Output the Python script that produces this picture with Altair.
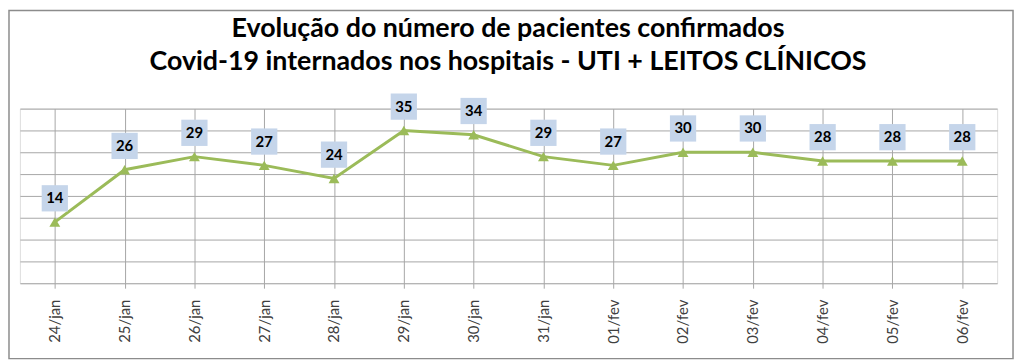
import altair as alt
import pandas as pd

datas = ["24/jan", "25/jan", "26/jan", "27/jan", "28/jan", "29/jan", "30/jan",
         "31/jan", "01/fev", "02/fev", "03/fev", "04/fev", "05/fev", "06/fev"]
pacientes = [14, 26, 29, 27, 24, 35, 34, 29, 27, 30, 30, 28, 28, 28]
titulo = ["Evolução do número de pacientes confirmados",
          "Covid-19 internados nos hospitais - UTI + LEITOS CLÍNICOS"]

df = pd.DataFrame({"data": datas, "pacientes": pacientes})
df_t = pd.DataFrame({"linha": titulo, "i": [0, 1]})

FONT = "Lato"
GREEN = "#9bbb59"
GRID = "#a6a6a6"

x = alt.X("data:N", sort=datas, title=None,
          scale=alt.Scale(paddingInner=0, paddingOuter=0),
          axis=alt.Axis(labelAngle=270, labelFont=FONT, labelFontSize=15,
                        labelColor="#404040", grid=True, gridColor=GRID,
                        bandPosition=0, tickColor=GRID, tickSize=5,
                        domain=False, labelPadding=11, labelBaseline="middle"))
y = alt.Y("pacientes:Q", title=None,
          scale=alt.Scale(domain=[0, 40], nice=False),
          axis=alt.Axis(values=[0, 5, 10, 15, 20, 25, 30, 35, 40], labels=False,
                        ticks=False, domain=False, grid=True, gridColor=GRID))

base = alt.Chart(df)

line = base.mark_line(color=GREEN, strokeWidth=3).encode(x=x, y=y)
pts = base.mark_point(shape="triangle-up", filled=True, color=GREEN, size=120,
                      opacity=1).encode(x=x, y=y)
boxes = base.mark_square(color="#c5d5ea", size=700, yOffset=-24,
                         opacity=1).encode(x=x, y=y)
labels = base.mark_text(font=FONT, fontSize=15, fontWeight="bold", color="black",
                        yOffset=-24, baseline="middle").encode(
    x=x, y=y, text="pacientes:Q")

t1 = alt.Chart(df_t).transform_filter("datum.i == 0").mark_text(
    font=FONT, fontSize=27, fontWeight="bold", color="black",
    align="center", baseline="alphabetic").encode(
    text="linha:N", x=alt.value(492), y=alt.value(-72))
t2 = alt.Chart(df_t).transform_filter("datum.i == 1").mark_text(
    font=FONT, fontSize=27, fontWeight="bold", color="black",
    align="center", baseline="alphabetic").encode(
    text="linha:N", x=alt.value(492), y=alt.value(-39))

frame = alt.Chart(df_t).transform_filter("datum.i == 0").mark_rect(
    fill="transparent", stroke="#8c8c8c", strokeWidth=1.5).encode(
    x=alt.value(-11), x2=alt.value(1001), y=alt.value(-99), y2=alt.value(252))

chart = alt.layer(line, pts, boxes, labels, t1, t2, frame).properties(
    width=985, height=176,
    autosize=alt.AutoSizeParams(type="none"),
    padding={"left": 12, "top": 100, "right": 19, "bottom": 80},
).configure_view(stroke=GRID, strokeWidth=1).configure(background="white")

chart.save("out.html", embed_options={"renderer": "svg", "actions": False})
